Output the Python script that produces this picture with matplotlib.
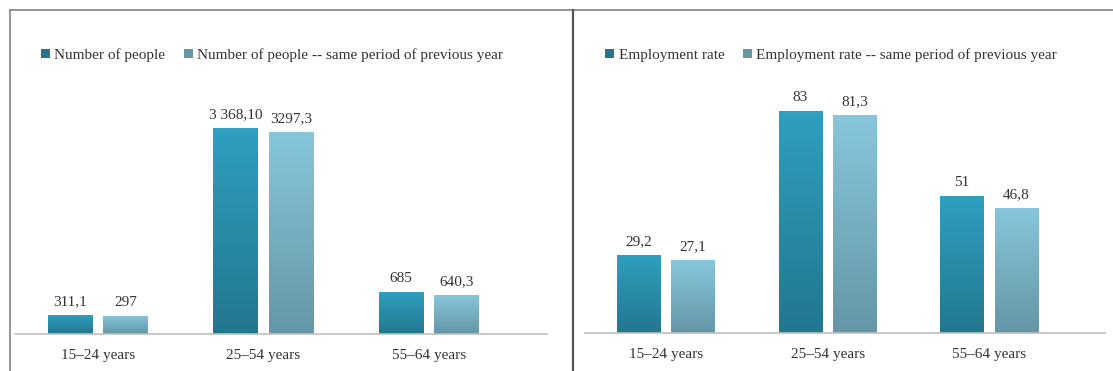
import numpy as np
import matplotlib
matplotlib.use('Agg')
import matplotlib.pyplot as plt
from matplotlib.lines import Line2D
from matplotlib.patches import Patch

# data
categories = ['15–24 years', '25–54 years', '55–64 years']
people_now = [311.1, 3368.1, 685]
people_prev = [297, 3297.3, 640.3]
people_now_lbl = ['311,1', '3 368,10', '685']
people_prev_lbl = ['297', '3297,3', '640,3']
rate_now = [29.2, 83, 51]
rate_prev = [27.1, 81.3, 46.8]
rate_now_lbl = ['29,2', '83', '51']
rate_prev_lbl = ['27,1', '81,3', '46,8']

plt.rcParams['font.family'] = ['Liberation Serif', 'DejaVu Serif']

# gradient colours (top, bottom)
dark = ('#2FA0C0', '#22778E')
light = ('#88C6DC', '#6496A6')


def grad_bars(ax, x, vals, cols):
    bars = ax.bar(x, vals, width=0.27, color=cols[0], edgecolor='none')
    c1 = np.array(matplotlib.colors.to_rgb(cols[0]))
    c2 = np.array(matplotlib.colors.to_rgb(cols[1]))
    t = np.linspace(0, 1, 256)[:, None]
    img = (c1 * (1 - t) + c2 * t)[:, None, :]
    for b in bars:
        x0, y0 = b.get_x(), b.get_y()
        im = ax.imshow(img, extent=(x0, x0 + b.get_width(), y0, y0 + b.get_height()),
                       aspect='auto', origin='upper', zorder=2)
        im.set_clip_path(b)
    return bars


def panel(ax, now, prev, now_lbl, prev_lbl, ymax, names):
    x = np.arange(len(categories))
    b1 = grad_bars(ax, x - 0.168, now, dark)
    b2 = grad_bars(ax, x + 0.168, prev, light)
    for bars, lbls in ((b1, now_lbl), (b2, prev_lbl)):
        for b, s in zip(bars, lbls):
            ax.annotate(s, (b.get_x() + b.get_width() / 2, b.get_height()),
                        xytext=(0, 5), textcoords='offset points',
                        ha='center', va='bottom', fontsize=11, color='#333333')
    ax.set_xlim(-0.5, 2.715)
    ax.set_ylim(0, ymax)
    ax.set_xticks(x)
    ax.set_xticklabels(categories, fontsize=11, color='#333333')
    ax.tick_params(axis='x', length=0, pad=11)
    ax.set_yticks([])
    for s in ['top', 'right', 'left']:
        ax.spines[s].set_visible(False)
    ax.spines['bottom'].set_color('#BFBFBF')
    ax.spines['bottom'].set_linewidth(1.2)
    handles = [Patch(facecolor=dark[1]), Patch(facecolor=light[1])]
    return handles


fig = plt.figure(figsize=(11.13, 3.71), dpi=100)

ax1 = fig.add_axes([15 / 1113, 37 / 371, 532 / 1113, 245 / 371])
h1 = panel(ax1, people_now, people_prev, people_now_lbl, people_prev_lbl, 4000,
           ['Number of people', 'Number of people -- same period of previous year'])
ax2 = fig.add_axes([585 / 1113, 38 / 371, 520 / 1113, 241 / 371])
h2 = panel(ax2, rate_now, rate_prev, rate_now_lbl, rate_prev_lbl, 90,
           ['Employment rate', 'Employment rate -- same period of previous year'])

leg_kw = dict(loc='center', frameon=False, fontsize=11, handlelength=0.6,
              handleheight=0.6, handletextpad=0.3, columnspacing=1.2, ncol=2,
              labelcolor='#333333')
fig.legend(h1, ['Number of people', 'Number of people -- same period of previous year'],
           bbox_to_anchor=(272 / 1113, 1 - 55 / 371), **leg_kw)
fig.legend(h2, ['Employment rate', 'Employment rate -- same period of previous year'],
           bbox_to_anchor=(831 / 1113, 1 - 55 / 371), **leg_kw)

# frame lines
fig.add_artist(Line2D([9.5 / 1113, 1], [1 - 9.5 / 371] * 2, color='#8C8C8C', lw=1.3))
fig.add_artist(Line2D([9.5 / 1113] * 2, [0, 1 - 9.5 / 371], color='#8C8C8C', lw=1.3))
fig.add_artist(Line2D([572.5 / 1113] * 2, [0, 1 - 9.5 / 371], color='#555555', lw=1.6))

fig.savefig('out.png', dpi=100)
